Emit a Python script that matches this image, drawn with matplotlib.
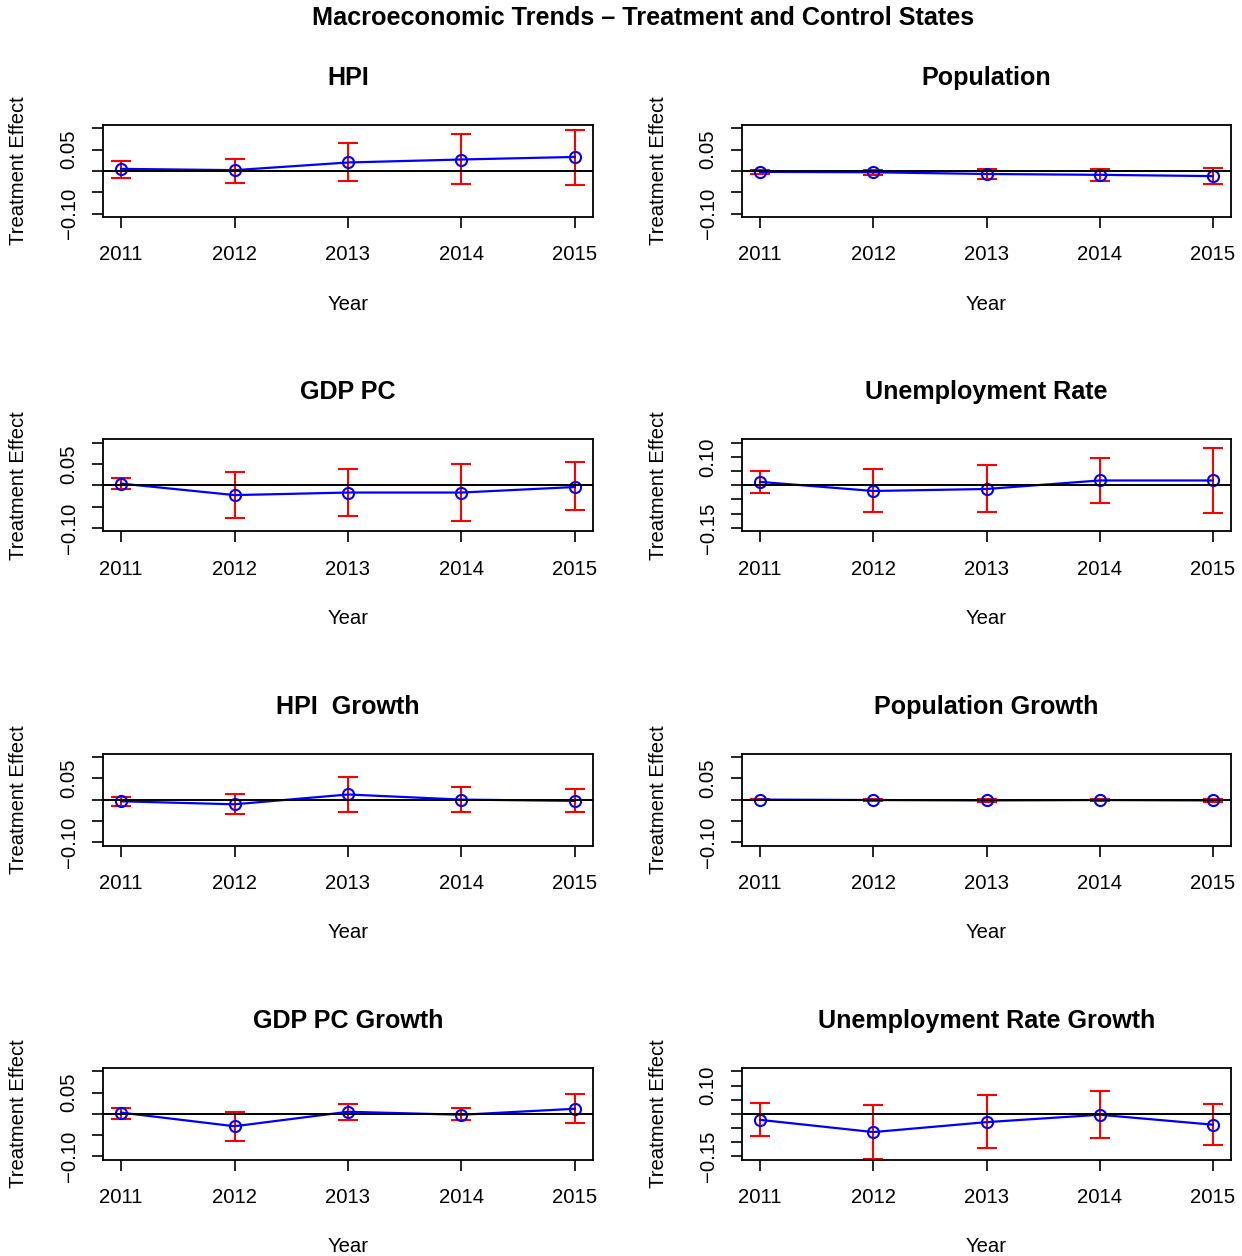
import matplotlib
matplotlib.use("Agg")
import matplotlib.pyplot as plt

plt.rcParams['font.family'] = ['Liberation Sans', 'DejaVu Sans']

years = [2011, 2012, 2013, 2014, 2015]

# Point estimates and confidence bounds for each outcome
hpi_est = [0.005, 0.002, 0.020, 0.027, 0.033]
hpi_lo = [-0.016, -0.027, -0.023, -0.031, -0.032]
hpi_hi = [0.023, 0.028, 0.066, 0.087, 0.096]

pop_est = [-0.002, -0.003, -0.007, -0.009, -0.012]
pop_lo = [-0.006, -0.009, -0.018, -0.023, -0.031]
pop_hi = [0.002, 0.003, 0.004, 0.005, 0.006]

gdp_est = [0.004, -0.023, -0.017, -0.017, -0.004]
gdp_lo = [-0.009, -0.076, -0.072, -0.084, -0.059]
gdp_hi = [0.016, 0.032, 0.038, 0.051, 0.054]

unemp_est = [0.012, -0.020, -0.013, 0.017, 0.017]
unemp_lo = [-0.028, -0.094, -0.094, -0.062, -0.098]
unemp_hi = [0.049, 0.056, 0.070, 0.097, 0.131]

hpi_g_est = [-0.004, -0.011, 0.012, 0.000, -0.003]
hpi_g_lo = [-0.014, -0.033, -0.029, -0.029, -0.030]
hpi_g_hi = [0.005, 0.012, 0.053, 0.029, 0.025]

pop_g_est = [0.000, -0.001, -0.002, -0.001, -0.002]
pop_g_lo = [-0.001, -0.004, -0.005, -0.004, -0.005]
pop_g_hi = [0.001, 0.002, 0.001, 0.002, 0.001]

gdp_g_est = [0.003, -0.029, 0.005, -0.002, 0.012]
gdp_g_lo = [-0.011, -0.063, -0.015, -0.015, -0.022]
gdp_g_hi = [0.015, 0.005, 0.024, 0.014, 0.046]

unemp_g_est = [-0.021, -0.064, -0.029, -0.003, -0.038]
unemp_g_lo = [-0.078, -0.160, -0.121, -0.086, -0.110]
unemp_g_hi = [0.038, 0.033, 0.066, 0.080, 0.035]

titles = ["HPI", "Population", "GDP PC", "Unemployment Rate",
          "HPI  Growth", "Population Growth", "GDP PC Growth",
          "Unemployment Rate Growth"]
series = [
    (hpi_est, hpi_lo, hpi_hi), (pop_est, pop_lo, pop_hi),
    (gdp_est, gdp_lo, gdp_hi), (unemp_est, unemp_lo, unemp_hi),
    (hpi_g_est, hpi_g_lo, hpi_g_hi), (pop_g_est, pop_g_lo, pop_g_hi),
    (gdp_g_est, gdp_g_lo, gdp_g_hi), (unemp_g_est, unemp_g_lo, unemp_g_hi),
]
wide_scale = {"Unemployment Rate", "Unemployment Rate Growth"}

W, H = 1242, 1256
fig = plt.figure(figsize=(W / 100, H / 100), dpi=100)

lefts = [103, 742]
widths = [490, 489]
box_h = 92
row_top0 = 125
row_step = 314.3

for i, (title, (est, lo, hi)) in enumerate(zip(titles, series)):
    r, c = divmod(i, 2)
    left = lefts[c]
    w = widths[c]
    top = row_top0 + r * row_step
    ax = fig.add_axes([left / W, 1 - (top + box_h) / H, w / W, box_h / H])

    yerr = [[e - l for e, l in zip(est, lo)], [h - e for e, h in zip(est, hi)]]
    ax.plot(years, est, color='blue', lw=1.6, marker='o', ms=8,
            mfc='none', mec='blue', mew=1.5, zorder=3)
    ax.errorbar(years, est, yerr=yerr, fmt='none', ecolor='red',
                elinewidth=1.5, capsize=7, capthick=1.5, zorder=2)
    ax.axhline(0, color='black', lw=1.4, zorder=4)

    ax.set_xlim(2010.84, 2015.16)
    ax.set_xticks(years)
    ax.set_xticklabels([str(y) for y in years])
    if title in wide_scale:
        ax.set_ylim(-0.162, 0.162)
        yt = [-0.15, -0.10, -0.05, 0.0, 0.05, 0.10, 0.15]
        yl = ["\u22120.15", "", "", "", "", "0.10", ""]
    else:
        ax.set_ylim(-0.108, 0.108)
        yt = [-0.10, -0.05, 0.0, 0.05, 0.10]
        yl = ["\u22120.10", "", "", "0.05", ""]
    ax.set_yticks(yt)
    ax.set_yticklabels(yl, rotation=90, va='center')

    ax.tick_params(axis='both', direction='out', length=8, width=1.2,
                   labelsize=14.6, color='black')
    ax.tick_params(axis='x', pad=12.5)
    ax.tick_params(axis='y', pad=9.5)
    for sp in ax.spines.values():
        sp.set_linewidth(1.3)

    ax.text(0.5, 1 + 47 / box_h, title, transform=ax.transAxes,
            ha='center', va='center', fontsize=18.1, fontweight='bold')
    ax.text(0.5, -87 / box_h, "Year", transform=ax.transAxes,
            ha='center', va='center', fontsize=14.6)
    ax.text(-84 / w, 0.5, "Treatment Effect", transform=ax.transAxes,
            ha='center', va='center', rotation=90, fontsize=14.6)

fig.text(643 / W, 1 - 18 / H,
         "Macroeconomic Trends \u2013 Treatment and Control States",
         ha='center', va='center', fontsize=18.2, fontweight='bold')

fig.savefig("out.png", dpi=100, facecolor='white')
